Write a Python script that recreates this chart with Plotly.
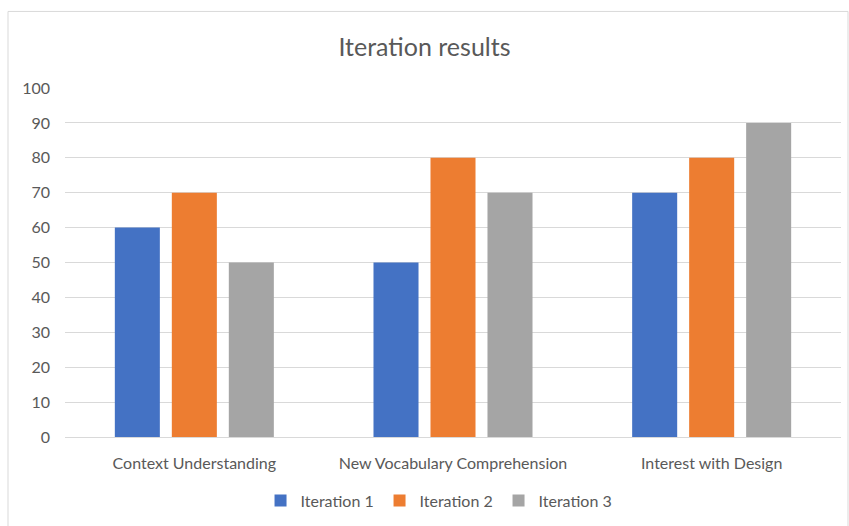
import plotly.graph_objects as go

categories = ["Context Understanding", "New Vocabulary Comprehension", "Interest with Design"]
series_names = ["Iteration 1", "Iteration 2", "Iteration 3"]
iteration1 = [60, 50, 70]
iteration2 = [70, 80, 80]
iteration3 = [50, 70, 90]
colors = ["#4472C4", "#ED7D31", "#A5A5A5"]

fig = go.Figure()
for name, vals, c in zip(series_names, [iteration1, iteration2, iteration3], colors):
    fig.add_trace(go.Bar(x=categories, y=vals, name=name, marker=dict(color=c, line=dict(width=0))))

W, H = 849, 526
l, r, t, b = 65, 8, 88, 87
pw, ph = W - l - r, H - t - b

fig.update_layout(
    width=W, height=H,
    margin=dict(l=l, r=r, t=t, b=b),
    paper_bgcolor="white", plot_bgcolor="white",
    font=dict(family="Lato, Open Sans, sans-serif", color="#595959", size=16),
    title=dict(text="Iteration results", x=0.5, xanchor="center", y=1 - 47 / H, yanchor="middle",
               font=dict(size=25, color="#595959")),
    barmode="group", bargap=0.339, bargroupgap=0.21,
    showlegend=True,
    legend=dict(orientation="h", x=0.482, xanchor="center", y=(439 - 503) / ph, yanchor="middle",
                font=dict(size=16, color="#595959"), itemwidth=30, traceorder="normal",
                entrywidth=74, entrywidthmode="pixels"),
    xaxis=dict(showgrid=False, showline=True, linecolor="#D9D9D9", linewidth=1, ticks="",
               ticklabelstandoff=12, tickfont=dict(size=16, color="#595959")),
    yaxis=dict(range=[0, 100], dtick=10, showgrid=True, gridcolor="#D9D9D9", gridwidth=1,
               zeroline=False, showline=False, ticks="", ticklabelstandoff=14,
               tickfont=dict(size=16, color="#595959")),
    shapes=[dict(type="rect", xref="paper", yref="paper",
                 x0=(8 - l) / pw, x1=(848 - l) / pw, y0=(439 - 540) / ph, y1=(439 - 11) / ph,
                 line=dict(color="#D9D9D9", width=1), fillcolor="rgba(0,0,0,0)", layer="below")],
)

fig.write_html("out.html", post_script="document.body.style.margin='0';",
               config={"displayModeBar": False})
